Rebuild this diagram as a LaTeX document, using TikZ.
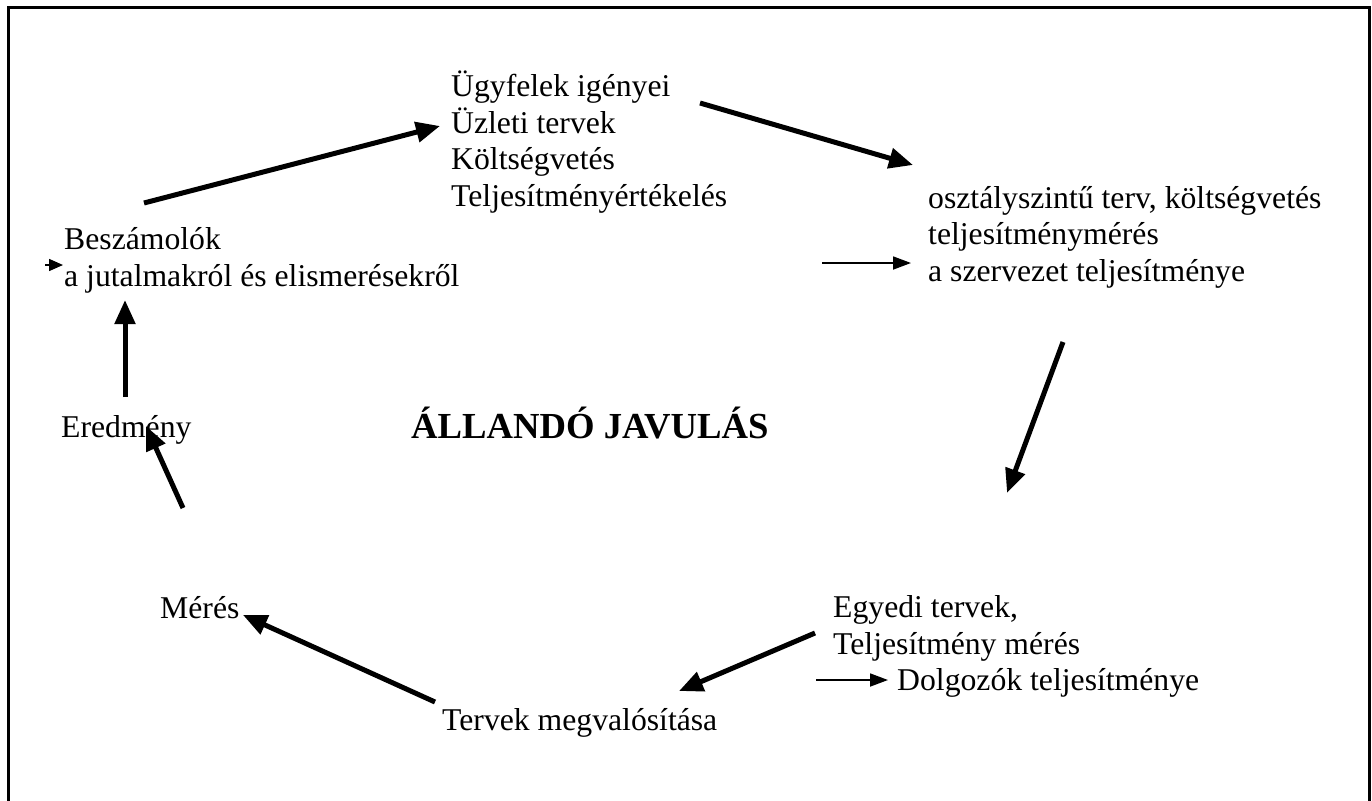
\documentclass[tikz,border=0pt]{standalone}
\usepackage{fontspec}
\setmainfont{Liberation Serif}
\usetikzlibrary{arrows.meta}
\begin{document}
\begin{tikzpicture}[x=1pt,y=-1pt,
  lbl/.style={anchor=base west,align=left,inner sep=0pt,
    font=\fontsize{31.7}{36.4}\selectfont},
  bigarrow/.style={line width=5pt,-{Triangle[length=24pt,width=20pt]}},
  thinarrow/.style={line width=1.8pt,-{Triangle[length=18pt,width=13pt]}}]
\useasboundingbox (0,0) rectangle (1372,800);
% open frame (no bottom edge)
\draw[line width=3pt] (8,810) -- (8,8) -- (1369.5,8) -- (1369.5,810);

% text blocks (anchored at the baseline of their last line)
\node[lbl] (ugyfel) at (451,206) {Ügyfelek igényei\\Üzleti tervek\\Költségvetés\\Teljesítményértékelés};
\node[lbl] (osztaly) at (928,281) {osztályszintű terv, költségvetés\\teljesítménymérés\\a szervezet teljesítménye};
\node[lbl] (egyedi) at (833,654) {Egyedi tervek,\\Teljesítmény mérés};
\node[lbl] (dolgozo) at (897,690) {Dolgozók teljesítménye};
\node[lbl] (terv) at (442,730) {Tervek megvalósítása};
\node[lbl] (meres) at (160,618) {Mérés};
\node[lbl] (eredm) at (61,437) {Eredmény};
\node[lbl,font=\fontsize{36.7}{42}\selectfont\bfseries] (javul) at (411,438) {ÁLLANDÓ JAVULÁS};
\node[lbl] (beszam) at (64,286) {Beszámolók\\a jutalmakról és elismerésekről};

% arrow end points
\coordinate (a1s) at (144,203); \coordinate (a1e) at (440,126);
\coordinate (a2s) at (700,103); \coordinate (a2e) at (913,165);
\coordinate (a3s) at (1063,342); \coordinate (a3e) at (1007,493);
\coordinate (a4s) at (815,633); \coordinate (a4e) at (679,691);
\coordinate (a5s) at (435,702); \coordinate (a5e) at (243,615);
\coordinate (a6s) at (183,508); \coordinate (a6e) at (146,426);
\coordinate (a7s) at (125,397); \coordinate (a7e) at (125,300);
\coordinate (t1s) at (822,263); \coordinate (t1e) at (911,263);
\coordinate (t2s) at (816,680); \coordinate (t2e) at (888,680);
\coordinate (t3s) at (45,265); \coordinate (t3e) at (63,265);

% cycle arrows
\draw[bigarrow] (a1s) -- (a1e);
\draw[bigarrow] (a2s) -- (a2e);
\draw[bigarrow] (a3s) -- (a3e);
\draw[bigarrow] (a4s) -- (a4e);
\draw[bigarrow] (a5s) -- (a5e);
\draw[bigarrow] (a6s) -- (a6e);
\draw[bigarrow] (a7s) -- (a7e);

% small side arrows
\draw[thinarrow] (t1s) -- (t1e);
\draw[thinarrow] (t2s) -- (t2e);
\draw[line width=1.5pt,-{Triangle[length=14pt,width=12pt]}] (t3s) -- (t3e);
\end{tikzpicture}
\end{document}
